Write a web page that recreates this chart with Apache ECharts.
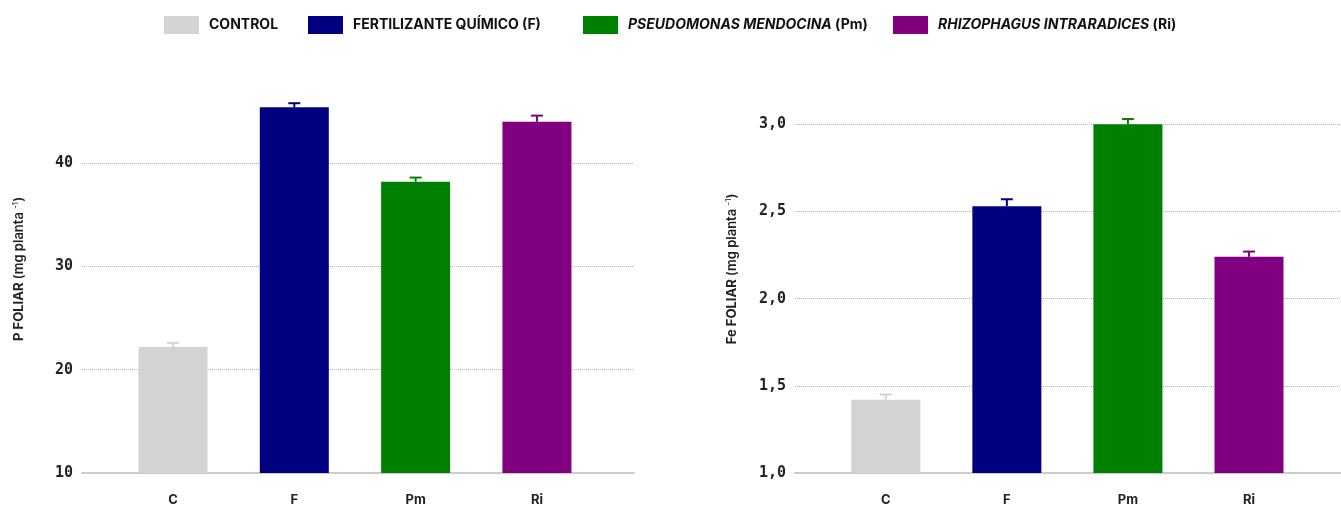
<!DOCTYPE html>
<html>
<head>
<meta charset="utf-8">
<script src="https://cdn.jsdelivr.net/npm/echarts@6/dist/echarts.min.js"></script>
<style>
  html, body { margin: 0; padding: 0; background: #fff; }
  #chart { width: 1341px; height: 506px; }
</style>
</head>
<body>
<div id="chart"></div>
<script>
// Treatments (x categories) and legend names
const categories = ['C', 'F', 'Pm', 'Ri'];
const treatments = ['CONTROL', 'FERTILIZANTE QUÍMICO (F)', 'PSEUDOMONAS MENDOCINA (Pm)', 'RHIZOPHAGUS INTRARADICES (Ri)'];
const colors = ['#d3d3d3', '#000080', '#008000', '#800080'];

// Foliar phosphorus (mg planta-1): mean and error
const pFoliar = [22.2, 45.4, 38.2, 44.0];
const pFoliarErr = [0.4, 0.4, 0.4, 0.6];

// Foliar iron (mg planta-1): mean and error
const feFoliar = [1.42, 2.53, 3.00, 2.24];
const feFoliarErr = [0.03, 0.04, 0.03, 0.03];

const FONT = 'Inter, "Noto Sans", sans-serif';
const MONO = '"DejaVu Sans Mono", monospace';

function barSeries(values, gridIdx) {
  return treatments.map((name, i) => ({
    name: name,
    type: 'bar',
    xAxisIndex: gridIdx,
    yAxisIndex: gridIdx,
    barWidth: 69,
    barGap: '-100%',
    itemStyle: { color: colors[i] },
    data: [[i, values[i]]],
    silent: true
  }));
}

function errorSeries(values, errs, gridIdx) {
  return {
    type: 'custom',
    xAxisIndex: gridIdx,
    yAxisIndex: gridIdx,
    z: 5,
    silent: true,
    encode: { x: 0, y: 1 },
    data: values.map((v, i) => [i, v, errs[i]]),
    renderItem: function (params, api) {
      const i = api.value(0);
      const base = api.coord([i, api.value(1)]);
      const top = api.coord([i, api.value(1) + api.value(2)]);
      const c = colors[i];
      const style = { stroke: c, lineWidth: 2 };
      return {
        type: 'group',
        children: [
          { type: 'line', shape: { x1: base[0], y1: base[1], x2: top[0], y2: top[1] }, style: style },
          { type: 'line', shape: { x1: top[0] - 6, y1: top[1], x2: top[0] + 6, y2: top[1] }, style: style }
        ]
      };
    }
  };
}

function xAxisFor(gridIdx, max) {
  return {
    type: 'value',
    gridIndex: gridIdx,
    min: -0.75,
    max: max,
    axisLine: { show: true, lineStyle: { color: '#cccccc', width: 2 } },
    axisTick: { show: false },
    splitLine: { show: false },
    axisLabel: {
      customValues: [0, 1, 2, 3],
      formatter: v => categories[v] || '',
      margin: 21,
      color: '#222',
      fontFamily: FONT,
      fontWeight: 'bold',
      fontSize: 13
    }
  };
}

function yAxisFor(gridIdx, min, max, interval, fmt, title) {
  return {
    type: 'value',
    gridIndex: gridIdx,
    min: min,
    max: max,
    interval: interval,
    axisLine: { show: false },
    axisTick: { show: false },
    axisLabel: {
      showMaxLabel: false,
      formatter: fmt,
      margin: 9,
      color: '#222',
      fontFamily: MONO,
      fontWeight: 'bold',
      fontSize: 15
    },
    splitLine: {
      show: true,
      showMinLine: false,
      showMaxLine: false,
      lineStyle: { type: 'dotted', color: '#b5b5b5', width: 1 }
    },
    name: title,
    nameLocation: 'middle',
    nameRotate: 90,
    nameGap: 56,
    nameTextStyle: {
      color: '#222',
      rich: {
        b: { fontFamily: FONT, fontWeight: 'bold', fontSize: 13, color: '#222' },
        n: { fontFamily: FONT, fontWeight: 600, fontSize: 13, color: '#222' },
        s: { fontFamily: FONT, fontWeight: 'normal', fontSize: 8, color: '#222', verticalAlign: 'top', padding: [0, 0, 6, 0] }
      }
    }
  };
}

const legendLefts = [164, 308, 583, 893];
const legendLabels = [
  'CONTROL',
  'FERTILIZANTE QUÍMICO (F)',
  '{i|PSEUDOMONAS MENDOCINA} (Pm)',
  '{i|RHIZOPHAGUS INTRARADICES} (Ri)'
];

const option = {
  animation: false,
  backgroundColor: '#ffffff',
  legend: treatments.map((name, i) => ({
    data: [name],
    left: legendLefts[i],
    top: 16,
    padding: 0,
    icon: 'rect',
    itemWidth: 35,
    itemHeight: 18,
    selectedMode: false,
    formatter: () => legendLabels[i],
    textStyle: {
      color: '#111',
      fontFamily: FONT,
      fontWeight: 'bold',
      fontSize: 14,
      padding: [0, 0, 0, 5],
      rich: {
        i: { fontFamily: FONT, fontWeight: 'bold', fontStyle: 'italic', fontSize: 14, color: '#111' }
      }
    }
  })),
  grid: [
    { left: 82, right: 707, top: 65, bottom: 33, outerBoundsMode: 'none' },
    { left: 795, right: 0, top: 65, bottom: 33, outerBoundsMode: 'none' }
  ],
  xAxis: [xAxisFor(0, 3.8), xAxisFor(1, 3.76)],
  yAxis: [
    yAxisFor(0, 10, 49.5, 10, v => String(v),
      '{b|P FOLIAR} {n|(mg planta }{s|-1}{n|)}'),
    yAxisFor(1, 1, 3.34, 0.5, v => v.toFixed(1).replace('.', ','),
      '{b|Fe FOLIAR} {n|(mg planta }{s|-1}{n|)}')
  ],
  series: [
    ...barSeries(pFoliar, 0),
    errorSeries(pFoliar, pFoliarErr, 0),
    ...barSeries(feFoliar, 1),
    errorSeries(feFoliar, feFoliarErr, 1)
  ]
};

const chart = echarts.init(document.getElementById('chart'), null, { renderer: 'canvas' });
chart.setOption(option);
</script>
</body>
</html>
